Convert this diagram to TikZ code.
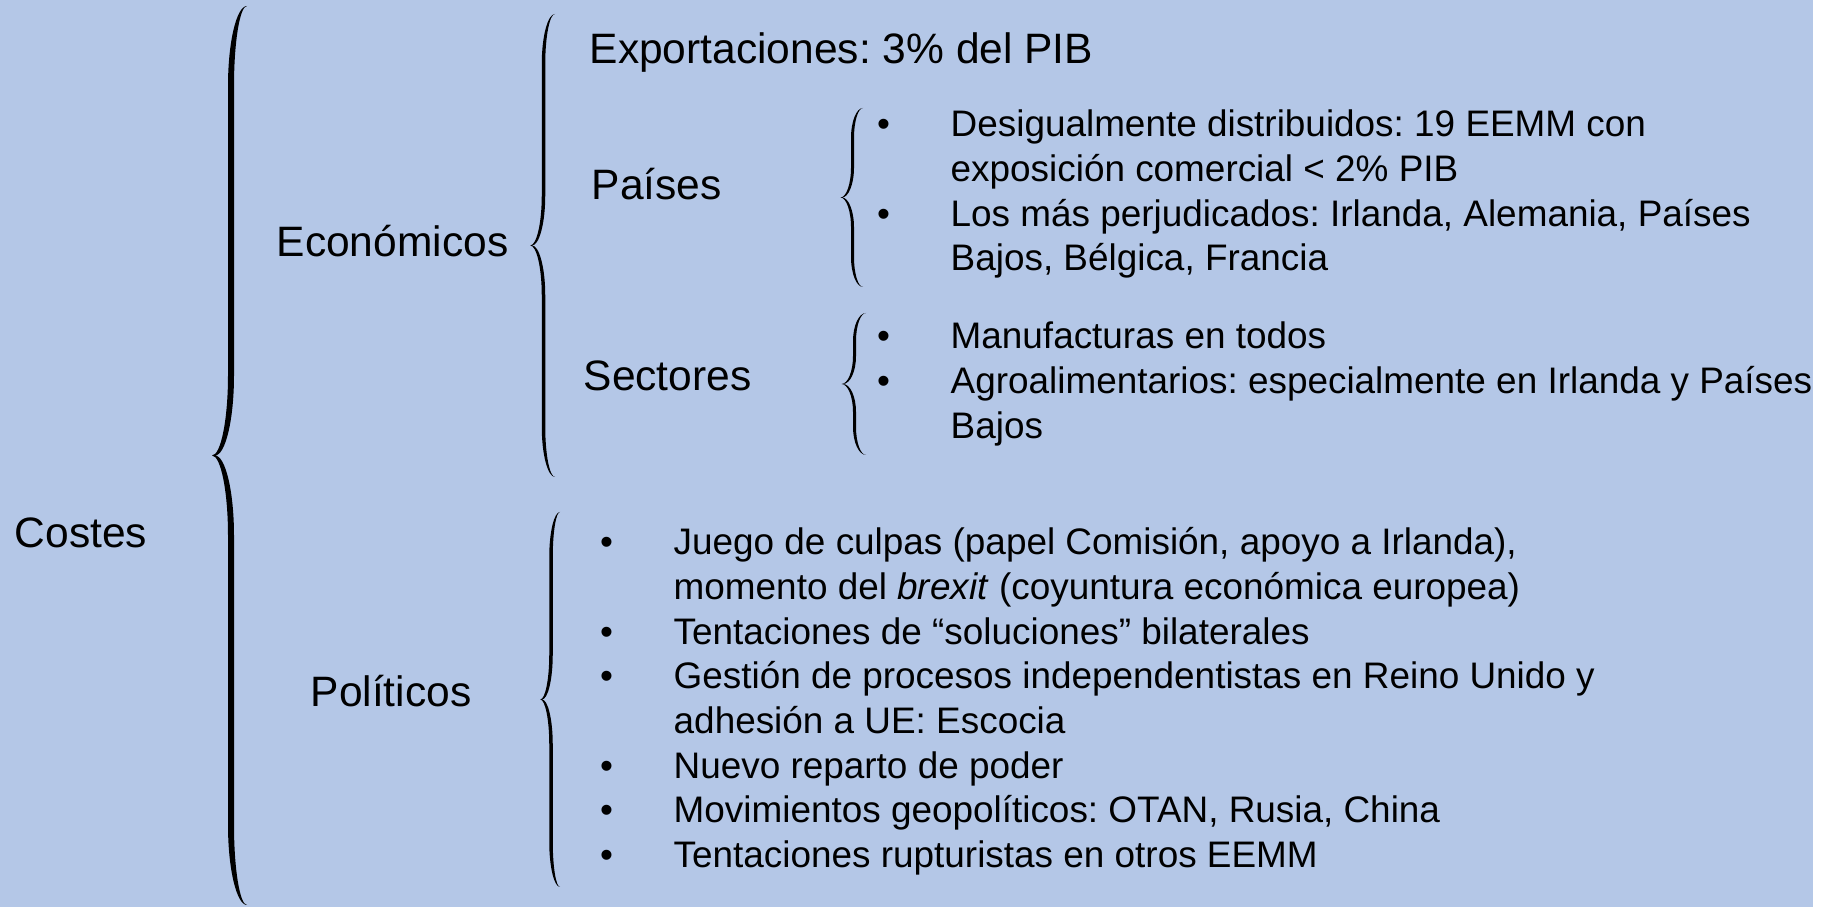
\documentclass[tikz,border=0pt]{standalone}
\usepackage{fontspec}
\setmainfont{Liberation Sans}
\frenchspacing
\usetikzlibrary{positioning}
\definecolor{slidebg}{HTML}{B4C7E7}
\tikzset{
  heading/.style={font=\fontsize{12.1}{14}\selectfont, anchor=base west, inner sep=0pt},
  itemlist/.style={font=\fontsize{10.5}{12.7}\selectfont, anchor=base west, inner sep=0pt},
  % left curly brace, origin at the ends, args: height, width, curl, thickness
  pics/curlybrace/.style n args={4}{
    code={
      \pgfmathsetmacro\brH{#1/2}
      \pgfmathsetmacro\brW{#2}
      \pgfmathsetmacro\brR{#3}
      \pgfmathsetmacro\brI{-#2/2+#4/2}
      \pgfmathsetmacro\brO{-#2/2-#4/2}
      \pgfmathsetmacro\brT{-#2-#4/2}
      \pgfmathsetmacro\brCi{-\brW+0.55*(\brW+\brI)}
      \pgfmathsetmacro\brCo{\brT+0.55*(\brO-\brT)}
      \fill[black]
        (0,\brH) .. controls ({0.55*\brI},\brH) and (\brI,{\brH-0.45*\brR}) .. (\brI,{\brH-\brR})
        -- (\brI,\brR) .. controls (\brI,{0.45*\brR}) and (\brCi,0) .. (-\brW,0)
        .. controls (\brCi,0) and (\brI,{-0.45*\brR}) .. (\brI,-\brR)
        -- (\brI,{-\brH+\brR}) .. controls (\brI,{-\brH+0.45*\brR}) and ({0.55*\brI},-\brH) .. (0,-\brH)
        .. controls ({0.55*\brO},-\brH) and (\brO,{-\brH+0.45*\brR}) .. (\brO,{-\brH+\brR})
        -- (\brO,-\brR) .. controls (\brO,{-0.45*\brR}) and (\brCo,0) .. (\brT,0)
        .. controls (\brCo,0) and (\brO,{0.45*\brR}) .. (\brO,\brR)
        -- (\brO,{\brH-\brR}) .. controls (\brO,{\brH-0.45*\brR}) and ({0.55*\brO},\brH) .. (0,\brH)
        -- cycle;
    }
  },
}

\begin{document}
\begin{tikzpicture}[x=1cm,y=1cm]
  \useasboundingbox (0,0) rectangle (18.34,9.07);
  \fill[white] (0,0) rectangle (18.34,9.07);
  \fill[slidebg] (0,0) rectangle (18.13,9.07);

  % first level
  \node[heading] (costes) at (0.14,3.59) {Costes};
  \path (2.47,4.515) pic (bracecostes) {curlybrace={8.99}{0.32}{0.8}{0.06}};

  % second level
  \node[heading] (econ) at (2.76,6.50) {Económicos};
  \node[heading] (pol) at (3.10,2.00) {Políticos};
  \path (5.55,6.615) pic (braceecon) {curlybrace={4.63}{0.23}{0.5}{0.035}};
  \path (5.60,2.075) pic (bracepol) {curlybrace={3.75}{0.18}{0.45}{0.035}};

  % economic costs
  \node[heading] (export) at (5.89,8.43) {Exportaciones: 3\% del PIB};
  \node[heading] (paises) at (5.91,7.07) {Países};
  \node[heading] (sectores) at (5.83,5.16) {Sectores};
  \path (8.63,7.095) pic (bracepaises) {curlybrace={1.79}{0.21}{0.3}{0.03}};
  \path (8.66,5.23) pic (bracesectores) {curlybrace={1.42}{0.23}{0.28}{0.03}};

  \node[itemlist] (listpaises) at (8.765,7.70) {%
    \begin{tabular}[t]{@{}p{0.735cm}@{}l@{}}
      \textbullet & Desigualmente distribuidos: 19 EEMM con \\
                  & exposición comercial < 2\% PIB \\
      \textbullet & Los más perjudicados: Irlanda, Alemania, Países \\
                  & Bajos, Bélgica, Francia
    \end{tabular}};
  \node[itemlist] (listsectores) at (8.765,5.58) {%
    \begin{tabular}[t]{@{}p{0.735cm}@{}l@{}}
      \textbullet & Manufacturas en todos \\
      \textbullet & Agroalimentarios: especialmente en Irlanda y Países \\
                  & Bajos
    \end{tabular}};

  % political costs
  \node[itemlist] (listpol) at (5.995,3.52) {%
    \begin{tabular}[t]{@{}p{0.735cm}@{}l@{}}
      \textbullet & Juego de culpas (papel Comisión, apoyo a Irlanda), \\
                  & momento del \textit{brexit} (coyuntura económica europea) \\
      \textbullet & Tentaciones de “soluciones” bilaterales \\
      \textbullet & Gestión de procesos independentistas en Reino Unido y \\
                  & adhesión a UE: Escocia \\
      \textbullet & Nuevo reparto de poder \\
      \textbullet & Movimientos geopolíticos: OTAN, Rusia, China \\
      \textbullet & Tentaciones rupturistas en otros EEMM
    \end{tabular}};
\end{tikzpicture}
\end{document}
